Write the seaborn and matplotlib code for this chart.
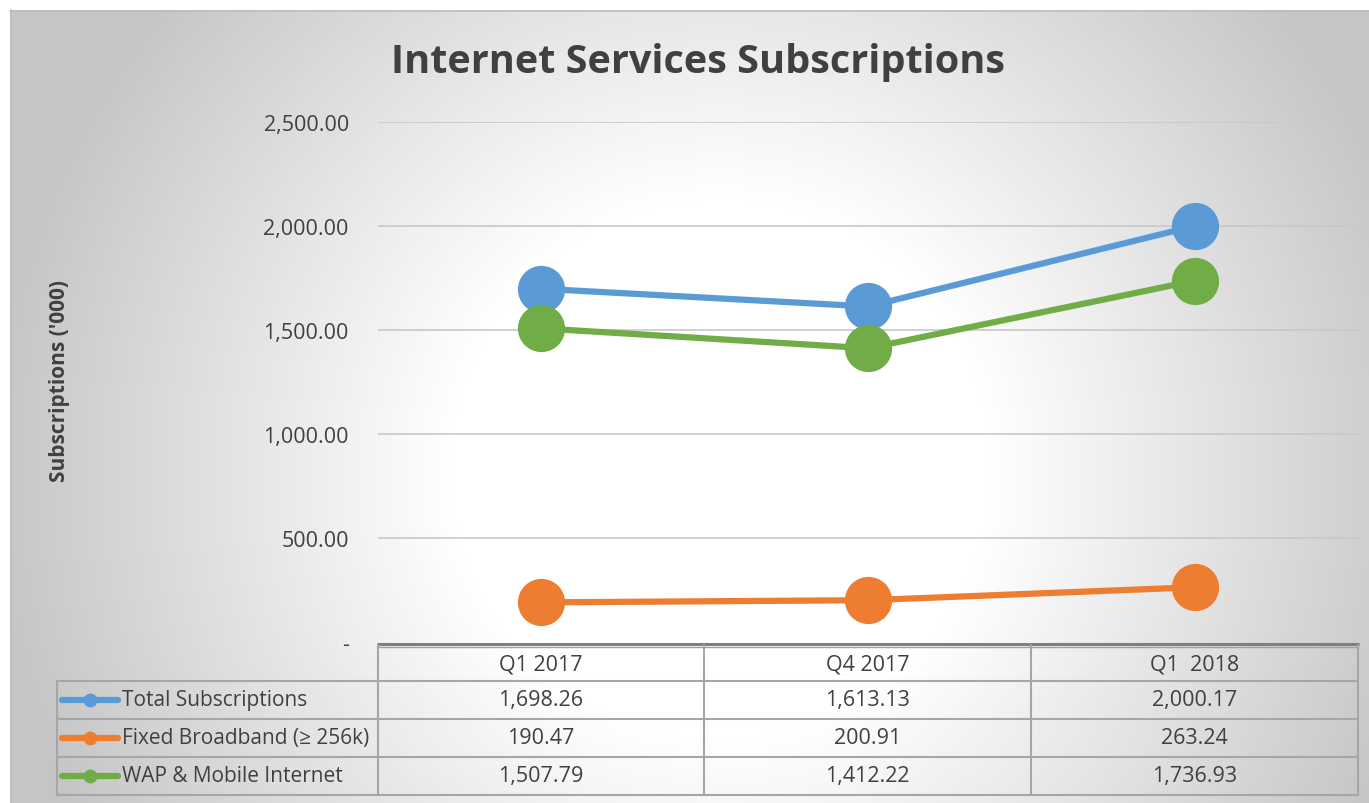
import numpy as np
import pandas as pd
import matplotlib
matplotlib.use("Agg")
import matplotlib.pyplot as plt
import seaborn as sns
from matplotlib.lines import Line2D

# ---- data ----
quarters = ["Q1 2017", "Q4 2017", "Q1  2018"]
series_names = ["Total Subscriptions", "Fixed Broadband (\u2265 256k)", "WAP & Mobile Internet"]
total_subs = [1698.26, 1613.13, 2000.17]
fixed_bb = [190.47, 200.91, 263.24]
wap_mobile = [1507.79, 1412.22, 1736.93]
series_values = [total_subs, fixed_bb, wap_mobile]
colors = ["#5B9BD5", "#ED7D31", "#70AD47"]
yticks = [0, 500, 1000, 1500, 2000, 2500]

df = pd.DataFrame({
    "Quarter": np.tile(quarters, 3),
    "x": np.tile(np.arange(3), 3),
    "Series": np.repeat(series_names, 3),
    "Value": np.concatenate(series_values),
})

sns.set_theme(style="white")
plt.rcParams["font.family"] = ["Open Sans", "DejaVu Sans"]

W, H = 1369, 804
fig = plt.figure(figsize=(W / 100, H / 100), dpi=100)
fig.patch.set_facecolor("white")

# background axes in pixel coordinates (top-left origin)
bg = fig.add_axes([0, 0, 1, 1])
bg.set_xlim(0, W)
bg.set_ylim(H, 0)
bg.axis("off")
yy, xx = np.mgrid[0:H, 0:W]
cx, cy = 720, 470
r = np.sqrt((xx - cx) ** 2 + (yy - cy) ** 2)
t = np.clip((r - 270) / 460.0, 0, 1)
val = 1.0 - t * (1.0 - 0.775)
img = np.dstack([val, val, val])
img[:11, :, :] = 1.0
img[:, :10, :] = 1.0
bg.imshow(img, extent=(0, W, H, 0), aspect="auto", zorder=0, interpolation="bilinear")
bg.plot([10, W], [11.5, 11.5], color="#bdbdbd", lw=1.2, zorder=1)
bg.plot([10.5, 10.5], [11, H], color="#bdbdbd", lw=1.2, zorder=1)

# main plot axes
L, R, T, B = 378, 1358, 123, 643
ax = fig.add_axes([L / W, 1 - B / H, (R - L) / W, (B - T) / H])
ax.patch.set_alpha(0)
for i, name in enumerate(series_names):
    sub = df[df["Series"] == name]
    sns.lineplot(data=sub, x="x", y="Value", ax=ax, color=colors[i], lw=4.5,
                 marker="o", markersize=34, markeredgewidth=0, legend=False, zorder=3)
ax.set_xlim(-0.5, 2.5)
ax.set_ylim(0, 2500)
ax.set_yticks(yticks)
ax.set_yticklabels(["-" if v == 0 else f"{v:,.2f}" for v in yticks], fontsize=15.5, color="#404040")
ax.tick_params(axis="y", length=0, pad=21)
ax.set_xticks([])
ax.set_xlabel("")
ax.set_ylabel("")
for v in yticks[1:]:
    ax.axhline(v, color="#c8c8c8", lw=1.2, zorder=1)
for s in ["top", "right", "left", "bottom"]:
    ax.spines[s].set_visible(False)

# y label
fig.text(60 / W, 1 - 381 / H, "Subscriptions ('000)", rotation=90, ha="center", va="center",
         fontsize=15, fontweight="bold", color="#404040")
# title
fig.text(698 / W, 1 - 63 / H, "Internet Services Subscriptions", ha="center", va="center",
         fontsize=28.5, fontweight="bold", color="#404040")

# data table (drawn in pixel coords on bg axes)
gc = "#a6a6a6"
col_x = [L, 704, 1031, R]
row_y = [646, 682, 720, 758, 796]
left_x = 57
bg.plot([L, R], [644.5, 644.5], color="#7f7f7f", lw=2.2, zorder=2)
bg.plot([L, R], [647.5, 647.5], color="#a0a0a0", lw=1.0, zorder=2)
for x in col_x:
    bg.plot([x, x], [646, row_y[-1]], color=gc, lw=1.5, zorder=2)
bg.plot([left_x, left_x], [row_y[1], row_y[-1]], color=gc, lw=1.5, zorder=2)
for y in row_y[1:]:
    bg.plot([left_x, R], [y, y], color=gc, lw=1.5, zorder=2)

for j, q in enumerate(quarters):
    xc = (col_x[j] + col_x[j + 1]) / 2
    bg.text(xc, (row_y[0] + row_y[1]) / 2 + 1, q, ha="center", va="center", fontsize=15.5, color="#404040", zorder=3)
for i, name in enumerate(series_names):
    yc = (row_y[i + 1] + row_y[i + 2]) / 2
    bg.add_line(Line2D([62, 118], [yc, yc], color=colors[i], lw=4.5, solid_capstyle="round", zorder=3))
    bg.plot([90], [yc], marker="o", markersize=10, color=colors[i], markeredgewidth=0, zorder=4)
    bg.text(122, yc, name, ha="left", va="center", fontsize=15, color="#404040", zorder=3)
    for j in range(3):
        xc = (col_x[j] + col_x[j + 1]) / 2
        bg.text(xc, yc, f"{series_values[i][j]:,.2f}", ha="center", va="center", fontsize=15.5,
                color="#404040", zorder=3)

fig.savefig("out.png", dpi=100)
